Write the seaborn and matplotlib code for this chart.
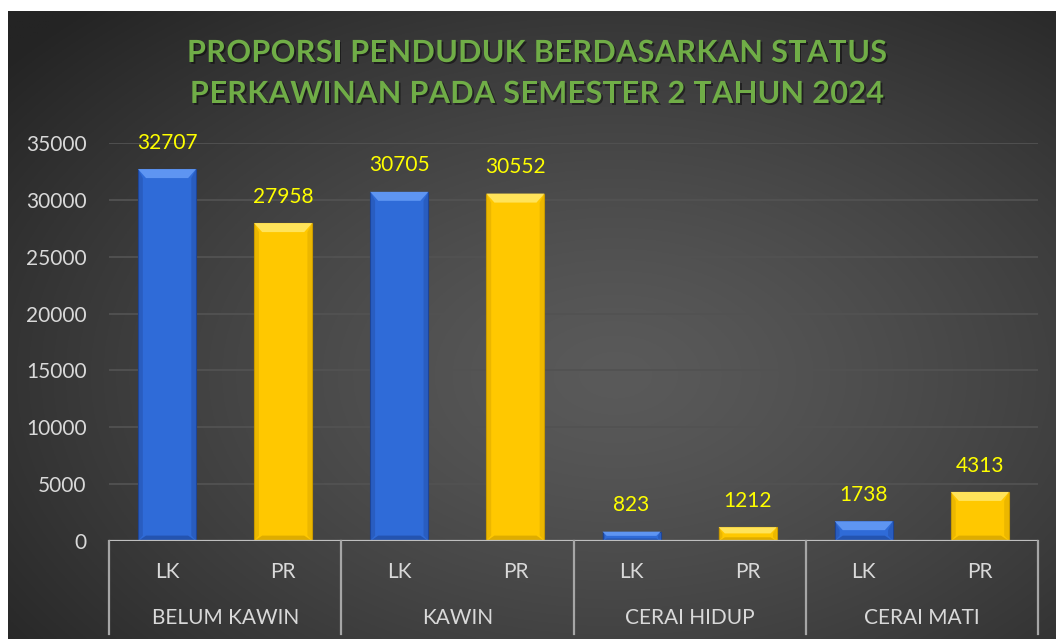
import numpy as np
import pandas as pd
import matplotlib
matplotlib.use("Agg")
import matplotlib.pyplot as plt
import matplotlib.transforms as mtransforms
import matplotlib.patheffects as pe
from matplotlib.patches import Polygon
from matplotlib.font_manager import FontProperties
import seaborn as sns

# ---------------- data ----------------
groups = ["BELUM KAWIN", "KAWIN", "CERAI HIDUP", "CERAI MATI"]
genders = ["LK", "PR"]
lk_values = [32707, 30705, 823, 1738]
pr_values = [27958, 30552, 1212, 4313]
y_ticks = [0, 5000, 10000, 15000, 20000, 25000, 30000, 35000]
title_lines = ["PROPORSI PENDUDUK BERDASARKAN STATUS",
               "PERKAWINAN PADA SEMESTER 2 TAHUN 2024"]

rows = []
for g, lk, pr in zip(groups, lk_values, pr_values):
    rows.append({"slot": f"{g}|LK", "group": g, "gender": "LK", "value": lk})
    rows.append({"slot": f"{g}|PR", "group": g, "gender": "PR", "value": pr})
df = pd.DataFrame(rows)
slot_order = list(df["slot"])

# ---------------- figure ----------------
W, H = 1056, 639
fig = plt.figure(figsize=(W / 100, H / 100), dpi=100)
fig.patch.set_facecolor("white")

FONT = ["Lato", "DejaVu Sans"]
TXT = "#D9D9D9"

# background with radial gradient
bg = fig.add_axes([8 / W, 0, 1 - 8 / W, (H - 11) / H])
bg.set_axis_off()
ny, nx = 400, 660
yy, xx = np.mgrid[0:1:ny * 1j, 0:1:nx * 1j]
r = np.sqrt(((xx - 0.58) / 0.75) ** 2 + ((yy - 0.58) / 0.80) ** 2)
r = np.clip(r, 0, 1)
c_center = np.array([0x5A, 0x5A, 0x5A]) / 255
c_edge = np.array([0x24, 0x24, 0x24]) / 255
t = r[..., None] ** 1.3
img = c_center * (1 - t) + c_edge * t
bg.imshow(img, aspect="auto", extent=[0, 1, 0, 1], origin="upper")
bg.set_xlim(0, 1)
bg.set_ylim(0, 1)

# main axes
x0, x1, ytop, ybot = 109, 1038, 143, 541
ax = fig.add_axes([x0 / W, (H - ybot) / H, (x1 - x0) / W, (ybot - ytop) / H])
ax.set_facecolor("none")

palette = {"LK": "#2F6BD8", "PR": "#FFC800"}
sns.barplot(data=df, x="slot", y="value", hue="gender", order=slot_order,
            hue_order=genders, palette=palette, dodge=False, width=0.5,
            saturation=1, legend=False, ax=ax, zorder=3, edgecolor="none")

ax.set_xlim(-0.5, len(slot_order) - 0.5)
ax.set_ylim(y_ticks[0], y_ticks[-1])
ax.set_yticks(y_ticks)
ax.set_yticklabels([str(v) for v in y_ticks])
ax.yaxis.grid(True, color="#525252", lw=1.3, zorder=0)
ax.set_axisbelow(True)
for s in ax.spines.values():
    s.set_visible(False)
ax.tick_params(axis="y", length=0, pad=16, labelcolor=TXT, labelsize=15)
for lab in ax.get_yticklabels():
    lab.set_family(FONT)
ax.set_xticks([])
ax.set_xlabel("")
ax.set_ylabel("")

# x axis line
ax.axhline(0, color="#BFBFBF", lw=1.6, zorder=4)

# category labels
blend = mtransforms.blended_transform_factory(ax.transData, ax.transAxes)
axh = ybot - ytop
for i, row in df.iterrows():
    ax.text(i, -31 / axh, row["gender"], transform=blend, ha="center", va="center",
            color=TXT, fontsize=15, family=FONT)
for gi, g in enumerate(groups):
    ax.text(gi * 2 + 0.5, -77 / axh, g, transform=blend, ha="center", va="center",
            color=TXT, fontsize=15, family=FONT)
for b in np.arange(-0.5, len(slot_order), 2):
    ax.plot([b, b], [0, -93 / axh], transform=blend, color="#A6A6A6", lw=1.6,
            clip_on=False, zorder=4)

# bevel effect on bars, derived from bar geometry
fig.canvas.draw()
to_px = ax.transData
from_px = ax.transData.inverted()
light = {"LK": "#5E95F2", "PR": "#FFE35A"}
dark = {"LK": "#1E4596", "PR": "#C99A00"}
for patch in list(ax.patches):
    x, y = patch.get_x(), patch.get_y()
    w, h = patch.get_width(), patch.get_height()
    if h <= 0:
        continue
    idx = int(round(x + w / 2))
    gender = df.iloc[idx]["gender"]
    (px0, py0) = to_px.transform((x, y))
    (px1, py1) = to_px.transform((x + w, y + h))
    bh = min(9.0, (py1 - py0) * 0.45)
    inset = min(8.0, bh)
    # side edges (darker)
    for sx, sgn in ((px0, 1), (px1, -1)):
        pts = [(sx, py0), (sx, py1), (sx + sgn * inset * 0.6, py1 - bh),
               (sx + sgn * inset * 0.6, py0 + bh * 0.6)]
        ax.add_patch(Polygon(from_px.transform(pts), closed=True, facecolor=dark[gender],
                             edgecolor="none", zorder=3.4, alpha=0.35))
    # bottom bevel
    pts = [(px0, py0), (px1, py0), (px1 - inset, py0 + bh * 0.6), (px0 + inset, py0 + bh * 0.6)]
    ax.add_patch(Polygon(from_px.transform(pts), closed=True, facecolor=dark[gender],
                         edgecolor="none", zorder=3.5, alpha=0.6))
    # top bevel
    pts = [(px0, py1), (px1, py1), (px1 - inset, py1 - bh), (px0 + inset, py1 - bh)]
    ax.add_patch(Polygon(from_px.transform(pts), closed=True, facecolor=light[gender],
                         edgecolor="none", zorder=3.6))
    patch.set_edgecolor(dark[gender])
    patch.set_linewidth(0.8)

# data labels
for i, row in df.iterrows():
    ax.annotate(str(row["value"]), (i, row["value"]), xytext=(0, 19), textcoords="offset points",
                ha="center", va="center", color="#FFFF00", fontsize=15, family=FONT, zorder=5)

# title with letter spacing
renderer = fig.canvas.get_renderer()
tprop = FontProperties(family=FONT, weight="bold", size=22)
target_w = 700
baselines = [62, 103]
title_x = 537
def char_w(ch):
    w, _, _ = renderer.get_text_width_height_descent(ch, tprop, ismath=False)
    return w
w1 = [char_w(c) for c in title_lines[0]]
spacing = (target_w - sum(w1)) / (len(title_lines[0]) - 1)
shadow = [pe.SimplePatchShadow(offset=(1.3, -1.3), shadow_rgbFace="black", alpha=0.45), pe.Normal()]
for line, base in zip(title_lines, baselines):
    ws = [char_w(c) for c in line]
    total = sum(ws) + spacing * (len(line) - 1)
    cx = title_x - total / 2
    for ch, w in zip(line, ws):
        if ch != " ":
            fig.text(cx / W, 1 - base / H, ch, ha="left", va="baseline", fontproperties=tprop,
                     color="#70AD47", path_effects=shadow)
        cx += w + spacing

fig.savefig("out.png", dpi=100, facecolor=fig.get_facecolor())
